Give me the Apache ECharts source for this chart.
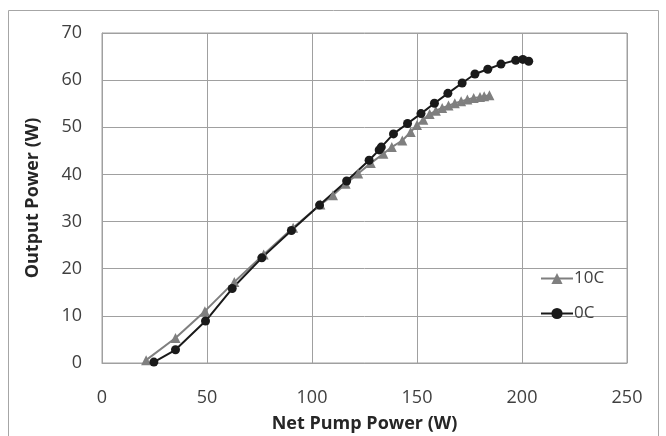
<!DOCTYPE html>
<html>
<head>
<meta charset="utf-8">
<script src="https://cdn.jsdelivr.net/npm/echarts@6/dist/echarts.min.js"></script>
<style>
	html,body{margin:0;padding:0;background:#fff;}
	#chart{width:666px;height:436px;}
</style>
</head>
<body>
<div id="chart"></div>
<script type="text/javascript">
	//10C 数据
	var pump10C = [21,35,49,63,77,91,104,110,116,122,128,134,138,143,147,150,153,156,159,162,165,168,171,174,177,180,182,184.5];
	var out10C  = [0.6,5.3,11,17.2,23,28.7,33.6,35.6,38,40.2,42.4,44.4,45.8,47.2,49,50.5,51.6,52.8,53.5,54.1,54.6,55.1,55.5,55.9,56.2,56.4,56.6,56.8];
	//0C 数据
	var pump0C = [24.7,35,49.3,62,76.1,90.2,103.6,116.5,127.2,132,133,138.8,145.5,151.9,158.3,164.7,171.5,177.6,183.7,190,197,200.4,203.2];
	var out0C  = [0.2,2.8,8.9,15.8,22.3,28.1,33.5,38.6,43,45.2,45.8,48.6,50.8,52.9,55.1,57.2,59.4,61.3,62.3,63.4,64.2,64.4,64];
	var seriesNames = ['10C','0C'];
	var xTicks = [0,250,50];
	var yTicks = [0,70,10];

	function pairs(xs, ys){
		var arr = [];
		for(var i=0;i<xs.length;i++){
			arr.push([xs[i], ys[i]]);
		}
		return arr;
	}

	var chart = echarts.init(document.getElementById('chart'));
	var font = '"Open Sans", "Noto Sans", sans-serif';
	var option = {
		animation:false,
		backgroundColor:'#fff',
		textStyle:{fontFamily:font},
		//外边框
		graphic:[{
			type:'rect',
			silent:true,
			shape:{x:8.5,y:10.5,width:650,height:440},
			style:{fill:null,stroke:'#a6a6a6',lineWidth:1}
		}],
		grid:{
			left:102,
			right:39,
			top:33,
			bottom:73,
			outerBoundsMode:'none',
			show:true,
			borderColor:'#a0a0a0',
			borderWidth:1
		},
		legend:{
			orient:'vertical',
			left:535,
			top:265,
			itemWidth:32,
			itemHeight:14,
			itemGap:18,
			textStyle:{color:'#404040',fontSize:17,fontFamily:font,padding:[0,0,0,-4]},
			data:seriesNames
		},
		xAxis:{
			type:'value',
			min:xTicks[0],
			max:xTicks[1],
			interval:xTicks[2],
			name:'Net Pump Power (W)',
			nameLocation:'middle',
			nameGap:52,
			nameTextStyle:{color:'#262626',fontSize:18,fontWeight:'bold',fontFamily:font},
			axisLabel:{color:'#404040',fontSize:18,margin:26,fontFamily:font},
			axisTick:{show:false},
			axisLine:{show:true,lineStyle:{color:'#a0a0a0',width:1}},
			splitLine:{show:true,lineStyle:{color:'#a0a0a0',width:1}}
		},
		yAxis:{
			type:'value',
			min:yTicks[0],
			max:yTicks[1],
			interval:yTicks[2],
			name:'Output Power (W)',
			nameLocation:'middle',
			nameGap:60,
			nameTextStyle:{color:'#262626',fontSize:18,fontWeight:'bold',fontFamily:font},
			axisLabel:{color:'#404040',fontSize:18,margin:20,fontFamily:font},
			axisTick:{show:false},
			axisLine:{show:true,lineStyle:{color:'#a0a0a0',width:1}},
			splitLine:{show:true,lineStyle:{color:'#a0a0a0',width:1}}
		},
		series:[{
			name:seriesNames[0],
			type:'line',
			symbol:'triangle',
			symbolSize:10,
			itemStyle:{color:'#7f7f7f'},
			lineStyle:{color:'#7f7f7f',width:2},
			data:pairs(pump10C,out10C)
		},{
			name:seriesNames[1],
			type:'line',
			symbol:'circle',
			symbolSize:9,
			itemStyle:{color:'#1a1a1a'},
			lineStyle:{color:'#1a1a1a',width:2},
			data:pairs(pump0C,out0C)
		}]
	};
	chart.setOption(option);
</script>
</body>
</html>
